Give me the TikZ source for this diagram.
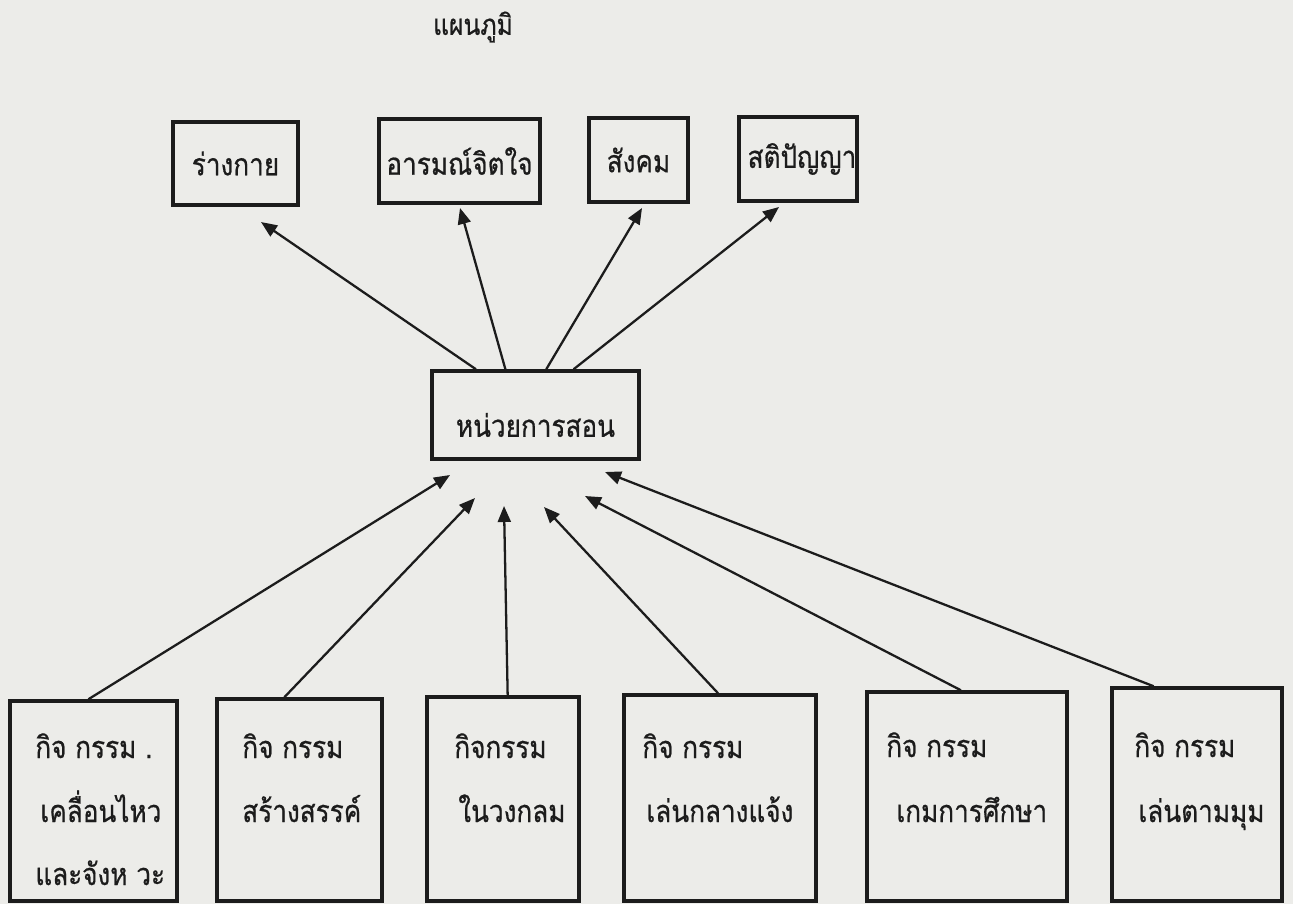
\documentclass[tikz,border=0pt]{standalone}
\usepackage{fontspec}
\newfontfamily\thai[Script=Thai,FakeStretch=0.85,FakeBold=0.6]{Loma}
\usetikzlibrary{arrows.meta,calc,fit}
\definecolor{paper}{RGB}{236,236,233}
\definecolor{ink}{RGB}{28,28,28}
\begin{document}
\begin{tikzpicture}[x=0.02cm,y=-0.02cm,
  box/.style={draw=ink,line width=2pt,inner sep=0pt},
  arr/.style={draw=ink,line width=1.3pt,-{Triangle[length=0.32cm,width=0.26cm]}},
  txt/.style={text=ink,font=\thai\fontsize{17.5}{21}\selectfont,inner sep=0pt},
  btxt/.style={txt,anchor=base west}]
\useasboundingbox[fill=paper] (0,0) rectangle (1293,904);
% title
\node[txt,font=\thai\fontsize{16.5}{19}\selectfont] (title) at (473,27) {แผนภูมิ};
% top boxes
\node[box,fit={(173,122)(298,205)},label={[txt]center:ร่างกาย}] (r1) {};
\node[box,fit={(379,119)(540,203)},label={[txt]center:อารมณ์จิตใจ}] (r2) {};
\node[box,fit={(589,118)(688,202)},label={[txt]center:สังคม}] (r3) {};
\node[box,fit={(739,117)(857,201)},label={[txt,xshift=0.08cm]center:สติปัญญา}] (r4) {};
% centre box
\node[box,fit={(432,371)(639,459)},label={[txt,yshift=-0.2cm]center:หน่วยการสอน}] (c) {};
% bottom boxes
\node[box,fit={(10,701)(177,901)}] (b1) {};
\node[box,fit={(217,699)(382,901)}] (b2) {};
\node[box,fit={(427,697)(579,901)}] (b3) {};
\node[box,fit={(624,695)(816,901)}] (b4) {};
\node[box,fit={(867,692)(1067,901)}] (b5) {};
\node[box,fit={(1112,688)(1282,901)}] (b6) {};
% bottom texts
\node[btxt] (l11) at (35,758) {กิจ กรรม .};
\node[btxt] (l12) at (40,822) {เคลื่อนไหว};
\node[btxt] (l13) at (35,885) {และจังห วะ};
\node[btxt] (l21) at (242,758) {กิจ กรรม};
\node[btxt] (l22) at (242,822) {สร้างสรรค์};
\node[btxt] (l31) at (454,758) {กิจกรรม};
\node[btxt] (l32) at (458,822) {ในวงกลม};
\node[btxt] (l41) at (642,758) {กิจ กรรม};
\node[btxt] (l42) at (646,822) {เล่นกลางแจ้ง};
\node[btxt] (l51) at (886,757) {กิจ กรรม};
\node[btxt] (l52) at (896,822) {เกมการศึกษา};
\node[btxt] (l61) at (1134,757) {กิจ กรรม};
\node[btxt] (l62) at (1138,822) {เล่นตามมุม};
% arrow tips
\coordinate (u1) at (261,222);
\coordinate (u2) at (460,208);
\coordinate (u3) at (642,208);
\coordinate (u4) at (779,207);
\coordinate (d1) at (450,475);
\coordinate (d2) at (475,498);
\coordinate (d3) at (504,506);
\coordinate (d4) at (544,507);
\coordinate (d5) at (585,496);
\coordinate (d6) at (605,472);
% top arrows
\draw[arr] ($(c.north west)!0.217!(c.north east)$) -- (u1);
\draw[arr] ($(c.north west)!0.357!(c.north east)$) -- (u2);
\draw[arr] ($(c.north west)!0.551!(c.north east)$) -- (u3);
\draw[arr] ($(c.north west)!0.681!(c.north east)$) -- (u4);
% bottom arrows
\draw[arr] ($(b1.north west)!0.47!(b1.north east)$) -- (d1);
\draw[arr] ($(b2.north west)!0.41!(b2.north east)$) -- (d2);
\draw[arr] ($(b3.north west)!0.53!(b3.north east)$) -- (d3);
\draw[arr] ($(b4.north west)!0.49!(b4.north east)$) -- (d4);
\draw[arr] ($(b5.north west)!0.47!(b5.north east)$) -- (d5);
\draw[arr] ($(b6.north west)!0.25!(b6.north east)$) -- (d6);
\end{tikzpicture}
\end{document}
